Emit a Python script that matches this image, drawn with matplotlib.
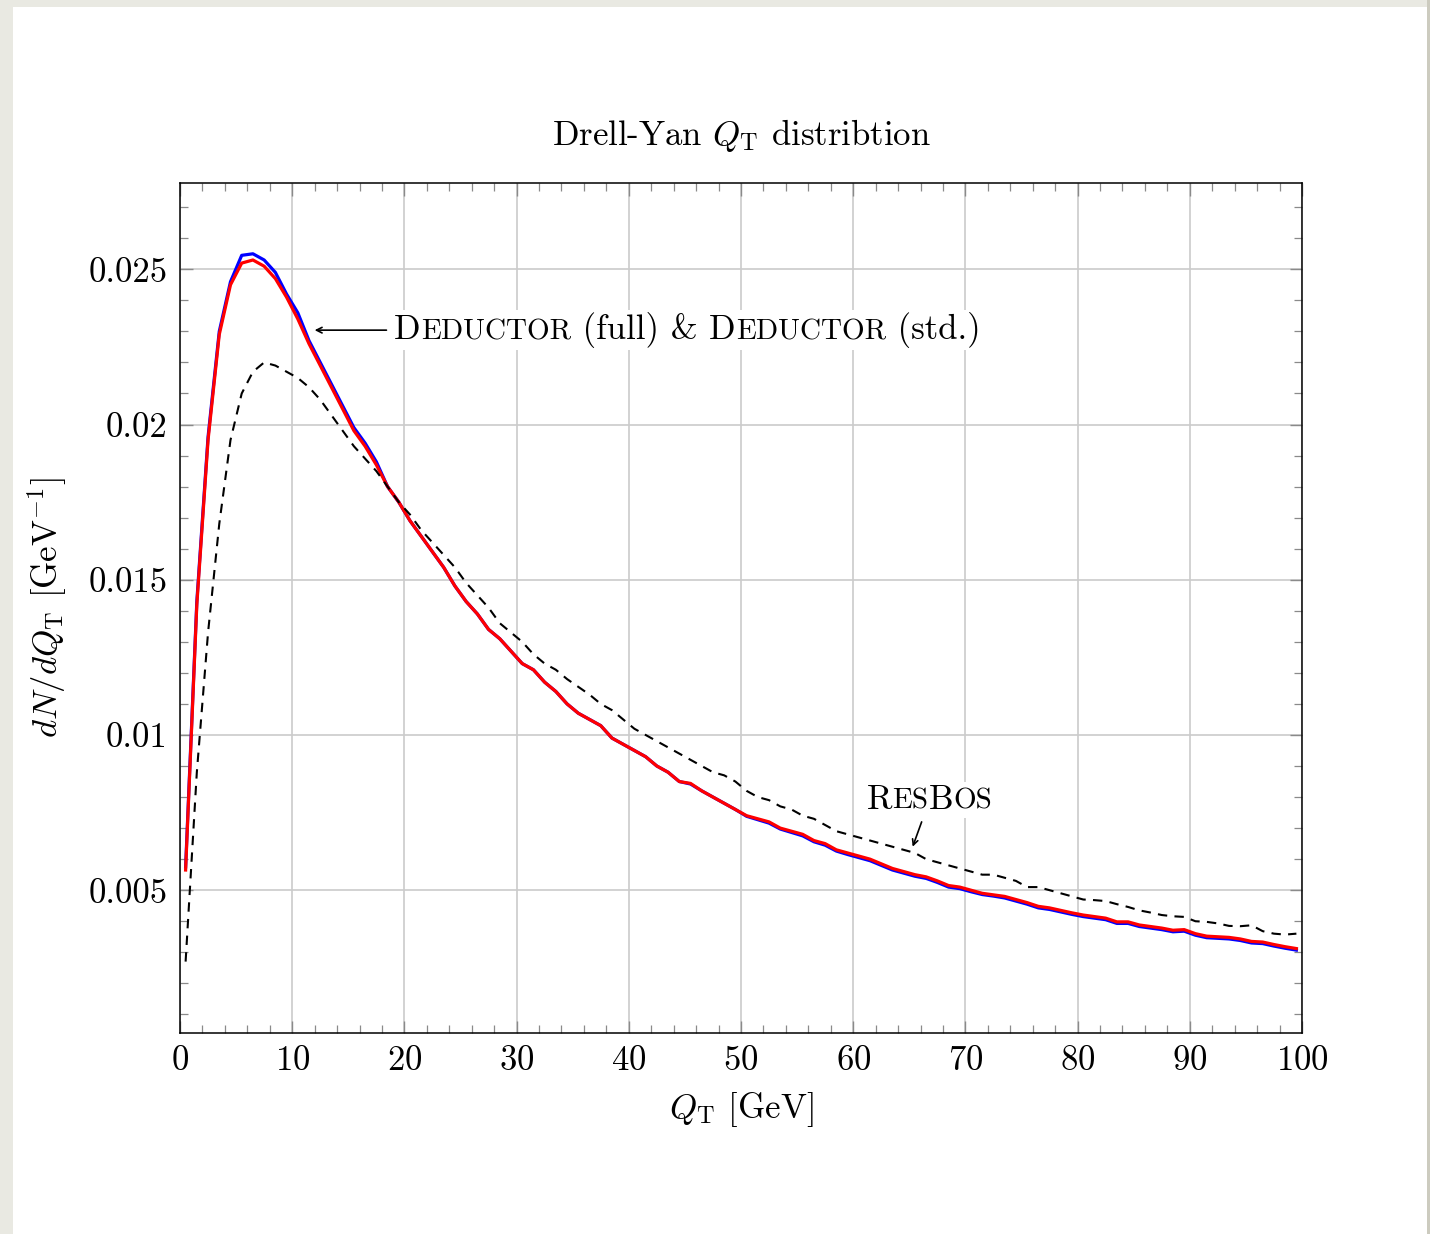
import matplotlib
matplotlib.use("Agg")
import matplotlib.pyplot as plt
from matplotlib.offsetbox import TextArea, HPacker, AnnotationBbox
from matplotlib.patches import Rectangle
from matplotlib.ticker import MultipleLocator, FixedLocator, FixedFormatter

plt.rcParams["font.family"] = "cmr10"
plt.rcParams["mathtext.fontset"] = "cm"
plt.rcParams["axes.formatter.use_mathtext"] = True

# bin centres in GeV
qt = [k + 0.5 for k in range(100)]

deductor_std = [
    0.00565, 0.0142, 0.0195, 0.0229, 0.0245, 0.0252, 0.0253, 0.0251, 0.0247, 0.0241,
    0.0234, 0.0226, 0.0219, 0.0212, 0.0205, 0.0198, 0.0193, 0.0187, 0.0180, 0.0175,
    0.0169, 0.0164, 0.0159, 0.0154, 0.0148, 0.0143, 0.0139, 0.0134, 0.0131, 0.0127,
    0.0123, 0.0121, 0.0117, 0.0114, 0.0110, 0.0107, 0.0105, 0.0103, 0.0099, 0.0097,
    0.0095, 0.0093, 0.0090, 0.0088, 0.0085, 0.00844, 0.0082, 0.0080, 0.0078, 0.0076,
    0.0074, 0.0073, 0.0072, 0.0070, 0.0069, 0.0068, 0.0066, 0.0065, 0.0063, 0.0062,
    0.0061, 0.0060, 0.00585, 0.0057, 0.0056, 0.0055, 0.00543, 0.0053, 0.00515, 0.0051,
    0.0050, 0.0049, 0.00485, 0.0048, 0.0047, 0.0046, 0.00448, 0.00443, 0.00435, 0.00427,
    0.0042, 0.00415, 0.0041, 0.00398, 0.00398, 0.00388, 0.00383, 0.00378, 0.00371, 0.00373,
    0.0036, 0.00352, 0.0035, 0.00348, 0.00343, 0.00335, 0.00333, 0.00325, 0.00318, 0.00312,
]

deductor_full = [
    0.00575, 0.0143, 0.0196, 0.0230, 0.0246, 0.02545, 0.0255, 0.0253, 0.0249, 0.0242,
    0.0236, 0.0227, 0.0220, 0.0213, 0.0206, 0.0199, 0.0194, 0.0188, 0.0180, 0.0175,
    0.0169, 0.0164, 0.0159, 0.0154, 0.0148, 0.0143, 0.0139, 0.0134, 0.0131, 0.0127,
    0.0123, 0.0121, 0.0117, 0.0114, 0.0110, 0.0107, 0.0105, 0.0103, 0.0099, 0.0097,
    0.0095, 0.0093, 0.0090, 0.0088, 0.0085, 0.00842, 0.0082, 0.0080, 0.0078, 0.0076,
    0.00738, 0.00727, 0.00716, 0.00697, 0.00686, 0.00675, 0.00656, 0.00645, 0.00626, 0.00615,
    0.00605, 0.00595, 0.0058, 0.00565, 0.00555, 0.00545, 0.00538, 0.00525, 0.0051, 0.00505,
    0.00495, 0.00486, 0.00481, 0.00475, 0.00465, 0.00455, 0.00443, 0.00438, 0.0043, 0.00422,
    0.00415, 0.0041, 0.00405, 0.00393, 0.00393, 0.00383, 0.00378, 0.00373, 0.00366, 0.00368,
    0.00355, 0.00347, 0.00345, 0.00343, 0.00338, 0.0033, 0.00328, 0.0032, 0.00313, 0.00307,
]

resbos = [
    0.0027, 0.0088, 0.0133, 0.0168, 0.0195, 0.0210, 0.0217, 0.0220, 0.0219, 0.0217,
    0.0215, 0.0212, 0.0208, 0.0203, 0.0198, 0.0193, 0.0189, 0.0185, 0.0180, 0.0175,
    0.0171, 0.0166, 0.0162, 0.0158, 0.0154, 0.0149, 0.0145, 0.0141, 0.0136, 0.0133,
    0.0130, 0.0126, 0.0123, 0.0121, 0.0118, 0.01155, 0.0113, 0.0110, 0.0108, 0.0105,
    0.0102, 0.0100, 0.0098, 0.0096, 0.0094, 0.0092, 0.0090, 0.0088, 0.0087, 0.0085,
    0.0082, 0.0080, 0.0079, 0.0077, 0.0076, 0.0074, 0.0073, 0.0071, 0.0069, 0.0068,
    0.0067, 0.0066, 0.0065, 0.0064, 0.0063, 0.0062, 0.0060, 0.0059, 0.0058, 0.0057,
    0.0056, 0.0055, 0.0055, 0.0054, 0.0053, 0.0051, 0.0051, 0.0050, 0.0049, 0.0048,
    0.0047, 0.00468, 0.00465, 0.00455, 0.00446, 0.00435, 0.00428, 0.0042, 0.00416, 0.00414,
    0.0040, 0.00398, 0.00393, 0.00385, 0.00384, 0.00387, 0.00368, 0.0036, 0.00357, 0.0036,
]

y_ticks = [0.005, 0.01, 0.015, 0.02, 0.025]
y_tick_labels = ["0.005", "0.01", "0.015", "0.02", "0.025"]

FS = 25

fig = plt.figure(figsize=(14.3, 12.34), dpi=100, facecolor="#e9e9e2")
fig.patches.append(Rectangle((13 / 1430, 0), 1414 / 1430, 1227 / 1234,
                             transform=fig.transFigure, facecolor="white",
                             edgecolor="none", zorder=-10))
fig.patches.append(Rectangle((1427 / 1430, 0), 3 / 1430, 1,
                             transform=fig.transFigure, facecolor="#cccbbf",
                             edgecolor="none", zorder=-10))

ax = fig.add_axes([180 / 1430, 1 - 1033 / 1234, 1122 / 1430, 850 / 1234])
ax.set_zorder(1)
ax.set_facecolor("white")

ax.plot(qt, deductor_full, color="blue", lw=2.3, zorder=3)
ax.plot(qt, deductor_std, color="red", lw=2.3, zorder=4)
ax.plot(qt, resbos, color="black", lw=1.5, linestyle=(0, (4.5, 3.5)), zorder=5)

ax.set_xlim(0, 100)
ax.set_ylim(0.0004, 0.02778)

ax.xaxis.set_major_locator(MultipleLocator(10))
ax.xaxis.set_minor_locator(MultipleLocator(2))
ax.yaxis.set_major_locator(FixedLocator(y_ticks))
ax.yaxis.set_major_formatter(FixedFormatter(y_tick_labels))
ax.yaxis.set_minor_locator(MultipleLocator(0.001))

ax.grid(True, which="major", color="#cbcbcb", lw=1.2, zorder=1)
ax.tick_params(which="both", direction="in", top=True, right=True,
               labelsize=FS, pad=9, color="#8a8a8a")
ax.tick_params(which="major", length=9, width=1.0)
ax.tick_params(which="minor", length=5.5, width=0.9)
for s in ax.spines.values():
    s.set_linewidth(1.1)

ax.set_title(r"Drell-Yan $Q_{\rm T}$ distribtion", fontsize=FS, pad=27)
ax.set_xlabel(r"$Q_{\rm T}$ [GeV]", fontsize=FS, labelpad=9)
ax.set_ylabel(r"$dN/dQ_{\rm T}$ [GeV$^{-1}$]", fontsize=FS, labelpad=14)


def small_caps(parts, size):
    areas = []
    for txt, small in parts:
        areas.append(TextArea(txt, textprops=dict(fontsize=size * 0.84 if small else size,
                                                  family="cmr10")))
    return HPacker(children=areas, align="baseline", pad=0, sep=0)


ded_box = small_caps([("D", False), ("EDUCTOR", True), (" (full) & ", False),
                      ("D", False), ("EDUCTOR", True), (" (std.)", False)], FS)
ab = AnnotationBbox(ded_box, (19.1, 0.02304), xycoords="data", box_alignment=(0, 0.5),
                    frameon=True, pad=0.15, bboxprops=dict(fc="white", ec="none"),
                    zorder=6)
ax.add_artist(ab)
ax.annotate("", xy=(12.0, 0.02304), xytext=(18.4, 0.02304),
            arrowprops=dict(arrowstyle="->", lw=1.2, color="black",
                            shrinkA=0, shrinkB=0), zorder=7)

res_box = small_caps([("R", False), ("ES", True), ("B", False), ("OS", True)], FS)
ab2 = AnnotationBbox(res_box, (66.8, 0.0079), xycoords="data", box_alignment=(0.5, 0.5),
                     frameon=True, pad=0.15, bboxprops=dict(fc="white", ec="none"),
                     zorder=6)
ax.add_artist(ab2)
ax.annotate("", xy=(65.3, 0.0064), xytext=(66.1, 0.0072),
            arrowprops=dict(arrowstyle="->", lw=1.2, color="black",
                            shrinkA=0, shrinkB=0), zorder=7)

fig.savefig("out.png", dpi=100, facecolor=fig.get_facecolor())
